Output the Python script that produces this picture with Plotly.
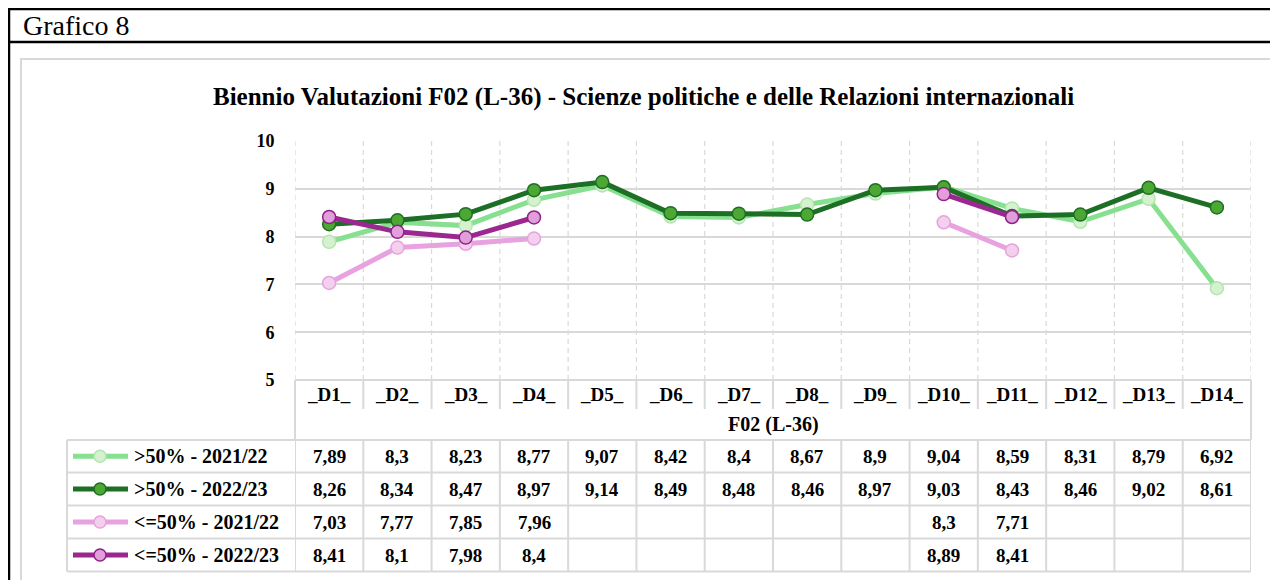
import plotly.graph_objects as go

W, H = 1278, 580

categories = ["_D1_", "_D2_", "_D3_", "_D4_", "_D5_", "_D6_", "_D7_",
              "_D8_", "_D9_", "_D10_", "_D11_", "_D12_", "_D13_", "_D14_"]

sopra_2122 = [7.89, 8.3, 8.23, 8.77, 9.07, 8.42, 8.4, 8.67, 8.9, 9.04, 8.59, 8.31, 8.79, 6.92]
sopra_2223 = [8.26, 8.34, 8.47, 8.97, 9.14, 8.49, 8.48, 8.46, 8.97, 9.03, 8.43, 8.46, 9.02, 8.61]
sotto_2122 = [7.03, 7.77, 7.85, 7.96, None, None, None, None, None, 8.3, 7.71, None, None, None]
sotto_2223 = [8.41, 8.1, 7.98, 8.4, None, None, None, None, None, 8.89, 8.41, None, None, None]

series_names = [">50% - 2021/22", ">50% - 2022/23", "<=50% - 2021/22", "<=50% - 2022/23"]
series_values = [sopra_2122, sopra_2223, sotto_2122, sotto_2223]

title = "Biennio Valutazioni F02 (L-36) - Scienze politiche e delle Relazioni internazionali"
axis_title = "F02 (L-36)"

# line colour, marker fill, marker border
styles = [
    ("#86E08F", "#D6F1D0", "#B3E6AE"),
    ("#1D6F25", "#4DA733", "#1D6F25"),
    ("#E8A2DF", "#F3D0EE", "#E6A3DD"),
    ("#9B2890", "#E29EDA", "#8E2386"),
]

FONT = "Liberation Serif"
GRID = "#D9D9D9"
OFF = 8  # page body margin


def px(x):
    return (x - OFF) / W


def py(y):
    return 1 - (y - OFF) / H


# plot area in pixels (page coordinates)
X0, X1 = 295, 1251
Y_TOP, Y_BOT = 141, 380
row_lines = [440, 472.5, 505.5, 538.5, 571.5]
LEG_X0 = 67

fig = go.Figure()

for name, vals, (lc, mf, mb) in zip(series_names, series_values, styles):
    fig.add_trace(go.Scatter(
        x=categories, y=vals, name=name, mode="lines+markers",
        line=dict(color=lc, width=5),
        marker=dict(size=13, color=mf, line=dict(color=mb, width=1.5)),
        connectgaps=False, showlegend=False, cliponaxis=False,
    ))

shapes = []
annotations = []


def hline(x0, x1, y, color=GRID, width=2, **kw):
    shapes.append(dict(type="line", xref="paper", yref="paper", x0=px(x0), x1=px(x1), y0=py(y), y1=py(y),
                       line=dict(color=color, width=width), **kw))


def vline(x, y0, y1, color=GRID, width=2):
    shapes.append(dict(type="line", xref="paper", yref="paper", x0=px(x), x1=px(x), y0=py(y0), y1=py(y1),
                       line=dict(color=color, width=width)))


# outer frame
hline(8, 1290, 9, color="black", width=2.5)
hline(8, 1290, 42, color="black", width=2.5)
vline(9, 8, 600, color="black", width=2.5)
# inner chart box
shapes.append(dict(type="rect", xref="paper", yref="paper", x0=px(21), x1=px(1300), y0=py(59), y1=py(620),
                   line=dict(color=GRID, width=2)))

for i in range(len(categories) + 1):
    # dashed gridlines at category boundaries in the plot area
    shapes.append(dict(type="line", xref="x", yref="paper", x0=i - 0.5, x1=i - 0.5,
                       y0=py(Y_BOT), y1=py(Y_TOP), line=dict(color=GRID, width=1.2, dash="5px,4px"),
                       layer="below"))
    # header row separators
    shapes.append(dict(type="line", xref="x", yref="paper", x0=i - 0.5, x1=i - 0.5,
                       y0=py(409), y1=py(Y_BOT), line=dict(color=GRID, width=2)))
    # data row separators
    shapes.append(dict(type="line", xref="x", yref="paper", x0=i - 0.5, x1=i - 0.5,
                       y0=py(row_lines[-1]), y1=py(row_lines[0]), line=dict(color=GRID, width=2)))

vline(X0, Y_BOT, row_lines[0])
vline(X1, Y_BOT, row_lines[0])
hline(X0, X1, Y_BOT)
for yl in row_lines:
    hline(LEG_X0, X1, yl)
vline(LEG_X0, row_lines[0], row_lines[-1])

# header category labels
for c in categories:
    annotations.append(dict(x=c, xref="x", y=py(395), yref="paper", text="<b>" + c + "</b>", showarrow=False,
                            font=dict(family=FONT, size=19, color="black"), yanchor="middle"))
annotations.append(dict(x=px((X0 + X1) / 2), xref="paper", y=py(424), yref="paper",
                        text="<b>" + axis_title + "</b>", showarrow=False,
                        font=dict(family=FONT, size=20, color="black"), yanchor="middle"))

# table rows
for r, (name, vals, (lc, mf, mb)) in enumerate(zip(series_names, series_values, styles)):
    yc = (row_lines[r] + row_lines[r + 1]) / 2
    hline(73, 128, yc, color=lc, width=5)
    shapes.append(dict(type="circle", xref="paper", yref="paper", x0=px(94), x1=px(106),
                       y0=py(yc + 6), y1=py(yc - 6), fillcolor=mf, line=dict(color=mb, width=1.5)))
    annotations.append(dict(x=px(132), xref="paper", y=py(yc), yref="paper", text="<b>" + name + "</b>",
                            showarrow=False, xanchor="left", yanchor="middle",
                            font=dict(family=FONT, size=20, color="black")))
    for c, v in zip(categories, vals):
        if v is None:
            continue
        annotations.append(dict(x=c, xref="x", y=py(yc), yref="paper",
                                text="<b>" + str(v).replace(".", ",") + "</b>",
                                showarrow=False, yanchor="middle",
                                font=dict(family=FONT, size=19, color="black")))

# title and header
annotations.append(dict(x=px(643), xref="paper", y=py(97), yref="paper", text="<b>" + title + "</b>",
                        showarrow=False, yanchor="middle", font=dict(family=FONT, size=25, color="black")))
annotations.append(dict(x=px(21), xref="paper", y=py(25), yref="paper", text="Grafico 8",
                        showarrow=False, xanchor="left", yanchor="middle",
                        font=dict(family=FONT, size=28, color="black")))

fig.update_layout(
    width=W, height=H,
    margin=dict(l=0, r=0, t=0, b=0),
    paper_bgcolor="white", plot_bgcolor="white",
    shapes=shapes, annotations=annotations,
    xaxis=dict(domain=[px(X0), px(X1)], type="category", categoryarray=categories,
               range=[-0.5, len(categories) - 0.5], showgrid=False, showticklabels=False,
               zeroline=False, showline=False, automargin=False),
    yaxis=dict(domain=[py(Y_BOT), py(Y_TOP)], range=[5, 10], dtick=1, showgrid=True, gridcolor=GRID,
               gridwidth=1.5, zeroline=False, showline=False, ticks="outside", ticklen=16,
               tickcolor="rgba(0,0,0,0)", tickfont=dict(family=FONT, size=18, color="black"),
               tickprefix="<b>", ticksuffix="</b>", automargin=False),
)

fig.write_html("out.html")
